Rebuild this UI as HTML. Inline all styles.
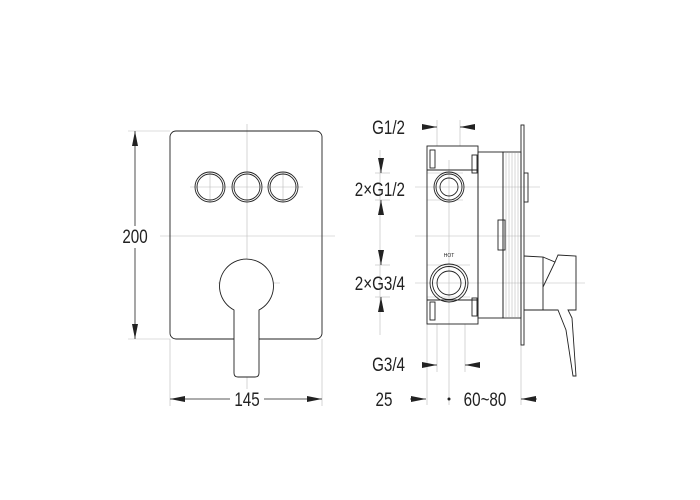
<!DOCTYPE html>
<html><head><style>html,body{margin:0;padding:0;background:#fff}svg{display:block}text{font-family:"Liberation Sans",sans-serif;fill:#222}</style></head>
<body>
<svg width="700" height="500" viewBox="0 0 700 500" xmlns="http://www.w3.org/2000/svg">
<defs>
<marker id="a" viewBox="0 0 10 4" refX="10" refY="2" markerWidth="15" markerHeight="6" orient="auto-start-reverse" markerUnits="userSpaceOnUse"><path d="M0,0L10,2L0,4z" fill="#222"/></marker>
</defs>
<g stroke="#bbb" stroke-width="0.6" fill="none">
<line x1="247" y1="124" x2="247" y2="405"/>
<line x1="160" y1="236" x2="335" y2="236"/>
<line x1="190" y1="187" x2="303" y2="187"/>
<line x1="210" y1="172" x2="210" y2="202"/><line x1="283" y1="172" x2="283" y2="202"/>
<line x1="218" y1="283" x2="280" y2="283"/>
<line x1="128" y1="131" x2="170" y2="131"/><line x1="128" y1="339" x2="170" y2="339"/>
<line x1="170" y1="339" x2="170" y2="406"/><line x1="322" y1="339" x2="322" y2="406"/>
<line x1="437" y1="120" x2="437" y2="146"/><line x1="460" y1="120" x2="460" y2="146"/>
<line x1="427" y1="173" x2="463" y2="173"/><line x1="427" y1="200" x2="463" y2="200"/>
<line x1="427" y1="265" x2="470" y2="265"/><line x1="427" y1="297" x2="470" y2="297"/>
<line x1="375" y1="173" x2="390" y2="173"/><line x1="375" y1="200" x2="390" y2="200"/>
<line x1="375" y1="265" x2="390" y2="265"/><line x1="375" y1="297" x2="390" y2="297"/>
<line x1="437" y1="324" x2="437" y2="372"/><line x1="465" y1="324" x2="465" y2="372"/>
<line x1="427" y1="324" x2="427" y2="405"/><line x1="449" y1="160" x2="449" y2="405"/><line x1="521" y1="345" x2="521" y2="405"/>
<line x1="415" y1="187" x2="540" y2="187"/><line x1="415" y1="236" x2="540" y2="236"/><line x1="415" y1="283" x2="585" y2="283"/>
<line x1="380" y1="150" x2="380" y2="335"/>
</g>
<g stroke="#222" stroke-width="0.9" fill="none">
<rect x="170" y="131" width="152" height="208" rx="6"/>
<circle cx="210" cy="187" r="15"/><circle cx="210" cy="187" r="13"/>
<circle cx="247" cy="187" r="15"/><circle cx="247" cy="187" r="13"/>
<circle cx="283" cy="187" r="15"/><circle cx="283" cy="187" r="13"/>
<path d="M234,310 A27,27 0 1 1 259,310 L259,373 Q259,377 255,377 L238,377 Q234,377 234,373 Z" fill="#fff"/>
<rect x="427" y="146" width="51" height="178"/>
<line x1="427" y1="170" x2="478" y2="170"/><line x1="427" y1="300" x2="478" y2="300"/>
<rect x="430" y="150" width="5" height="18"/><rect x="472" y="155" width="5" height="18"/>
<rect x="430" y="302" width="5" height="18"/><rect x="472" y="298" width="5" height="18"/>
<rect x="478" y="152" width="25" height="166"/>
<rect x="503" y="152" width="18" height="166"/>
<rect x="498" y="220" width="7" height="30"/>
<rect x="521" y="125" width="3" height="220"/>
<rect x="524" y="173" width="4" height="29"/>
<circle cx="449" cy="187" r="15"/><circle cx="449" cy="187" r="13"/><circle cx="449" cy="187" r="9"/>
<circle cx="449" cy="283" r="19"/><circle cx="449" cy="283" r="16.5"/><circle cx="449" cy="283" r="12"/>
<path d="M524,256 L543,257 L543,310 L524,310"/>
<path d="M543,257 L555,262 L558,255 L576,256 L576,310 L568,310 L572,318 L576,376 L573,376 L566,330 L558,310 L543,310"/>
<line x1="555" y1="262" x2="543" y2="287"/>
</g>
<g stroke="#999" stroke-width="0.4">
<line x1="506" y1="152" x2="506" y2="318"/><line x1="509" y1="152" x2="509" y2="318"/><line x1="512" y1="152" x2="512" y2="318"/><line x1="515" y1="152" x2="515" y2="318"/><line x1="518" y1="152" x2="518" y2="318"/>
</g>
<g stroke="#222" stroke-width="0.8">
<line x1="135" y1="131" x2="135" y2="339" marker-start="url(#a)" marker-end="url(#a)"/>
<line x1="170" y1="399" x2="322" y2="399" marker-start="url(#a)" marker-end="url(#a)"/>
<line x1="422" y1="127" x2="437" y2="127" marker-end="url(#a)"/><line x1="475" y1="127" x2="460" y2="127" marker-end="url(#a)"/>
<line x1="381" y1="160" x2="381" y2="173" marker-end="url(#a)"/><line x1="381" y1="213" x2="381" y2="200" marker-end="url(#a)"/>
<line x1="381" y1="252" x2="381" y2="265" marker-end="url(#a)"/><line x1="381" y1="310" x2="381" y2="297" marker-end="url(#a)"/>
<line x1="422" y1="365" x2="437" y2="365" marker-end="url(#a)"/><line x1="480" y1="365" x2="465" y2="365" marker-end="url(#a)"/>
<line x1="410" y1="399" x2="426" y2="399" marker-end="url(#a)"/><line x1="537" y1="399" x2="521" y2="399" marker-end="url(#a)"/>
</g>
<circle cx="449" cy="399" r="1.5" fill="#222"/>
<rect x="118" y="226" width="34" height="22" fill="#fff"/>
<rect x="230" y="389" width="34" height="20" fill="#fff"/>
<g font-size="19">
<text transform="translate(135,243) scale(0.8,1)" text-anchor="middle">200</text>
<text transform="translate(247,406) scale(0.8,1)" text-anchor="middle">145</text>
<text transform="translate(405,134) scale(0.8,1)" text-anchor="end">G1/2</text>
<text transform="translate(405,196) scale(0.8,1)" text-anchor="end">2×G1/2</text>
<text transform="translate(405,290) scale(0.8,1)" text-anchor="end">2×G3/4</text>
<text transform="translate(405,371) scale(0.8,1)" text-anchor="end">G3/4</text>
<text transform="translate(384,406) scale(0.8,1)" text-anchor="middle">25</text>
<text transform="translate(485,406) scale(0.8,1)" text-anchor="middle">60~80</text>
</g>
<text x="449" y="257" font-size="5" text-anchor="middle">HOT</text>
</svg>
</body></html>
